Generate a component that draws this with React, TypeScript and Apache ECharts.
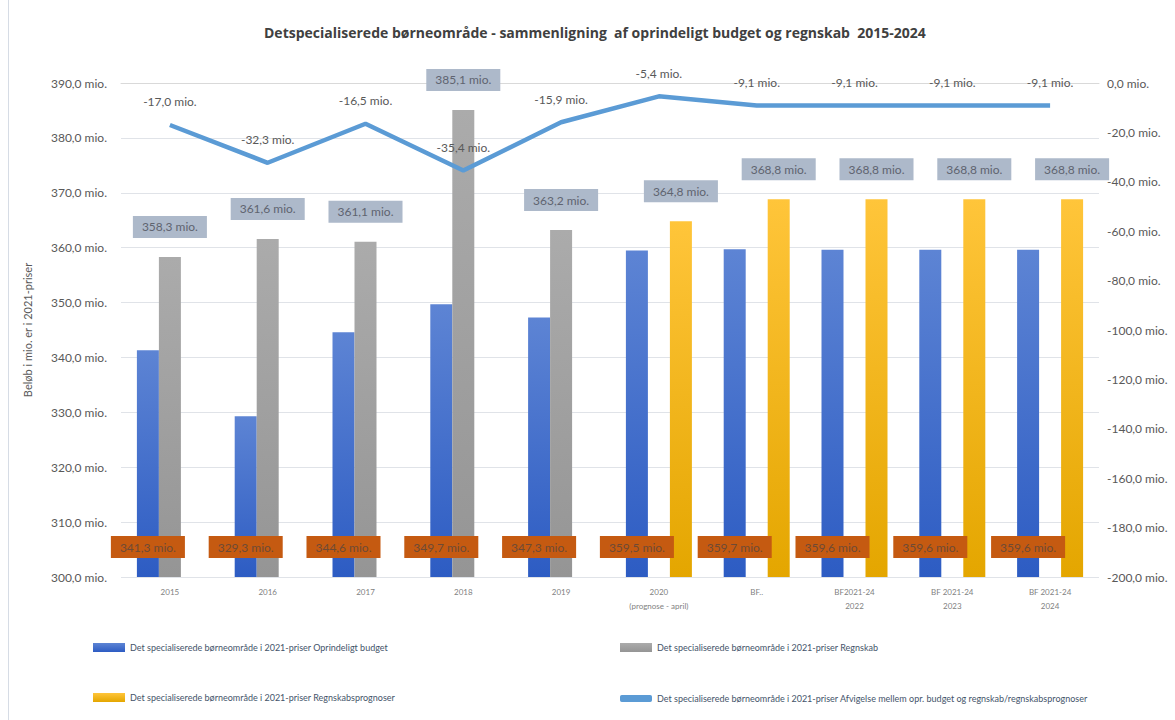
import React, { useEffect, useRef } from "react";
import * as echarts from "echarts";

const categories = [
  "2015",
  "2016",
  "2017",
  "2018",
  "2019",
  "2020\n(prognose - april)",
  "BF..",
  "BF2021-24\n2022",
  "BF 2021-24\n2023",
  "BF 2021-24\n2024",
];
const budget = [341.3, 329.3, 344.6, 349.7, 347.3, 359.5, 359.7, 359.6, 359.6, 359.6];
const regnskab = [358.3, 361.6, 361.1, 385.1, 363.2, null, null, null, null, null];
const prognose = [null, null, null, null, null, 364.8, 368.8, 368.8, 368.8, 368.8];
const afvigelse = [-17.0, -32.3, -16.5, -35.4, -15.9, -5.4, -9.1, -9.1, -9.1, -9.1];

const leftMin = 300;
const leftMax = 390;
const leftStep = 10;
const rightMin = -200;
const rightMax = 0;
const rightStep = 20;

const names = [
  "Det specialiserede børneområde i 2021-priser Oprindeligt budget",
  "Det specialiserede børneområde i 2021-priser Regnskab",
  "Det specialiserede børneområde i 2021-priser Regnskabsprognoser",
  "Det specialiserede børneområde i 2021-priser Afvigelse mellem opr. budget og regnskab/regnskabsprognoser",
];

const title =
  "Detspecialiserede børneområde - sammenligning  af oprindeligt budget og regnskab  2015-2024";
const yName = "Beløb i mio. er i 2021-priser";

const fmt = (v: number) => v.toFixed(1).replace(".", ",") + " mio.";
const FONT = "Lato";

export default function App() {
  const ref = useRef<HTMLDivElement>(null);
  useEffect(() => {
    if (!ref.current) return;
    const chart = echarts.init(ref.current, null, { renderer: "svg" });
    const grad = (a: string, b: string) =>
      new echarts.graphic.LinearGradient(0, 0, 0, 1, [
        { offset: 0, color: a },
        { offset: 1, color: b },
      ]);
    const boxLabel = {
      show: true,
      position: "top",
      distance: 19,
      formatter: (p: any) => fmt(p.value),
      backgroundColor: "#adb9ca",
      color: "#5f6470",
      fontFamily: FONT,
      fontSize: 12,
      padding: [5, 9],
    };
    const legendBase = {
      itemWidth: 32,
      itemHeight: 9,
      padding: 0,
      textStyle: { fontFamily: FONT, fontSize: 9, color: "#44546a" },
      icon: "rect",
    };
    chart.setOption({
      animation: false,
      backgroundColor: "#ffffff",
      textStyle: { fontFamily: FONT },
      title: {
        text: title,
        left: 264,
        top: 25,
        padding: 0,
        textStyle: { fontFamily: "Open Sans", fontSize: 14, fontWeight: "bold", color: "#404040" },
      },
      graphic: [
        { type: "line", shape: { x1: 8.5, y1: 0, x2: 8.5, y2: 720 }, style: { stroke: "#d6dce5", lineWidth: 1 } },
      ],
      legend: [
        { ...legendBase, data: [names[0]], left: 93, top: 643 },
        { ...legendBase, data: [names[1]], left: 620, top: 643 },
        { ...legendBase, data: [names[2]], left: 93, top: 693 },
        { ...legendBase, data: [names[3]], left: 620, top: 694, icon: "roundRect", itemHeight: 7 },
      ],
      grid: { left: 121, right: 76, top: 83, bottom: 143 },
      xAxis: {
        type: "category",
        data: categories,
        axisLine: { lineStyle: { color: "#d9d9d9" } },
        axisTick: { show: false },
        axisLabel: { fontFamily: FONT, fontSize: 8, color: "#7f7f7f", margin: 8, lineHeight: 14 },
      },
      yAxis: [
        {
          type: "value",
          min: leftMin,
          max: leftMax,
          interval: leftStep,
          name: yName,
          nameLocation: "middle",
          nameRotate: 90,
          nameGap: 88,
          nameTextStyle: { fontFamily: FONT, fontSize: 11, color: "#595959" },
          axisLine: { show: false },
          axisTick: { show: false },
          splitLine: { lineStyle: { color: "#e0e3e8" } },
          axisLabel: { fontFamily: FONT, fontSize: 12, color: "#595959", margin: 14, formatter: (v: number) => fmt(v) },
        },
        {
          type: "value",
          min: rightMin,
          max: rightMax,
          interval: rightStep,
          position: "right",
          axisLine: { show: false },
          axisTick: { show: false },
          splitLine: { show: false },
          axisLabel: { fontFamily: FONT, fontSize: 12, color: "#595959", margin: 8, formatter: (v: number) => fmt(v) },
        },
      ],
      series: [
        {
          name: names[0],
          type: "bar",
          data: budget,
          barWidth: 22,
          barGap: "0%",
          itemStyle: { color: grad("#5d84d4", "#2d5cc3") },
          label: {
            show: true,
            position: "insideBottom",
            distance: 19,
            formatter: (p: any) => fmt(p.value),
            backgroundColor: "#c55a11",
            color: "#6e4a35",
            fontFamily: FONT,
            fontSize: 12,
            padding: [5, 9],
          },
          z: 2,
        },
        {
          name: names[1],
          type: "bar",
          data: regnskab,
          barWidth: 22,
          barGap: "0%",
          itemStyle: { color: grad("#ababab", "#959595") },
          label: boxLabel,
          z: 2,
        },
        {
          name: names[2],
          type: "bar",
          data: prognose,
          barWidth: 22,
          barGap: "0%",
          itemStyle: { color: grad("#ffc53a", "#e4a600") },
          label: boxLabel,
          z: 2,
        },
        {
          name: names[3],
          type: "line",
          yAxisIndex: 1,
          data: afvigelse,
          showSymbol: true,
          symbol: "circle",
          symbolSize: 0,
          lineStyle: { color: "#5b9bd5", width: 4.5 },
          itemStyle: { color: "#5b9bd5" },
          label: {
            show: true,
            position: "top",
            distance: 17,
            formatter: (p: any) => fmt(p.value),
            color: "#595959",
            fontFamily: FONT,
            fontSize: 12,
          },
          z: 3,
        },
      ],
    });
    return () => chart.dispose();
  }, []);
  return <div ref={ref} style={{ position: "absolute", left: 0, top: 0, width: 1175, height: 720 }} />;
}
